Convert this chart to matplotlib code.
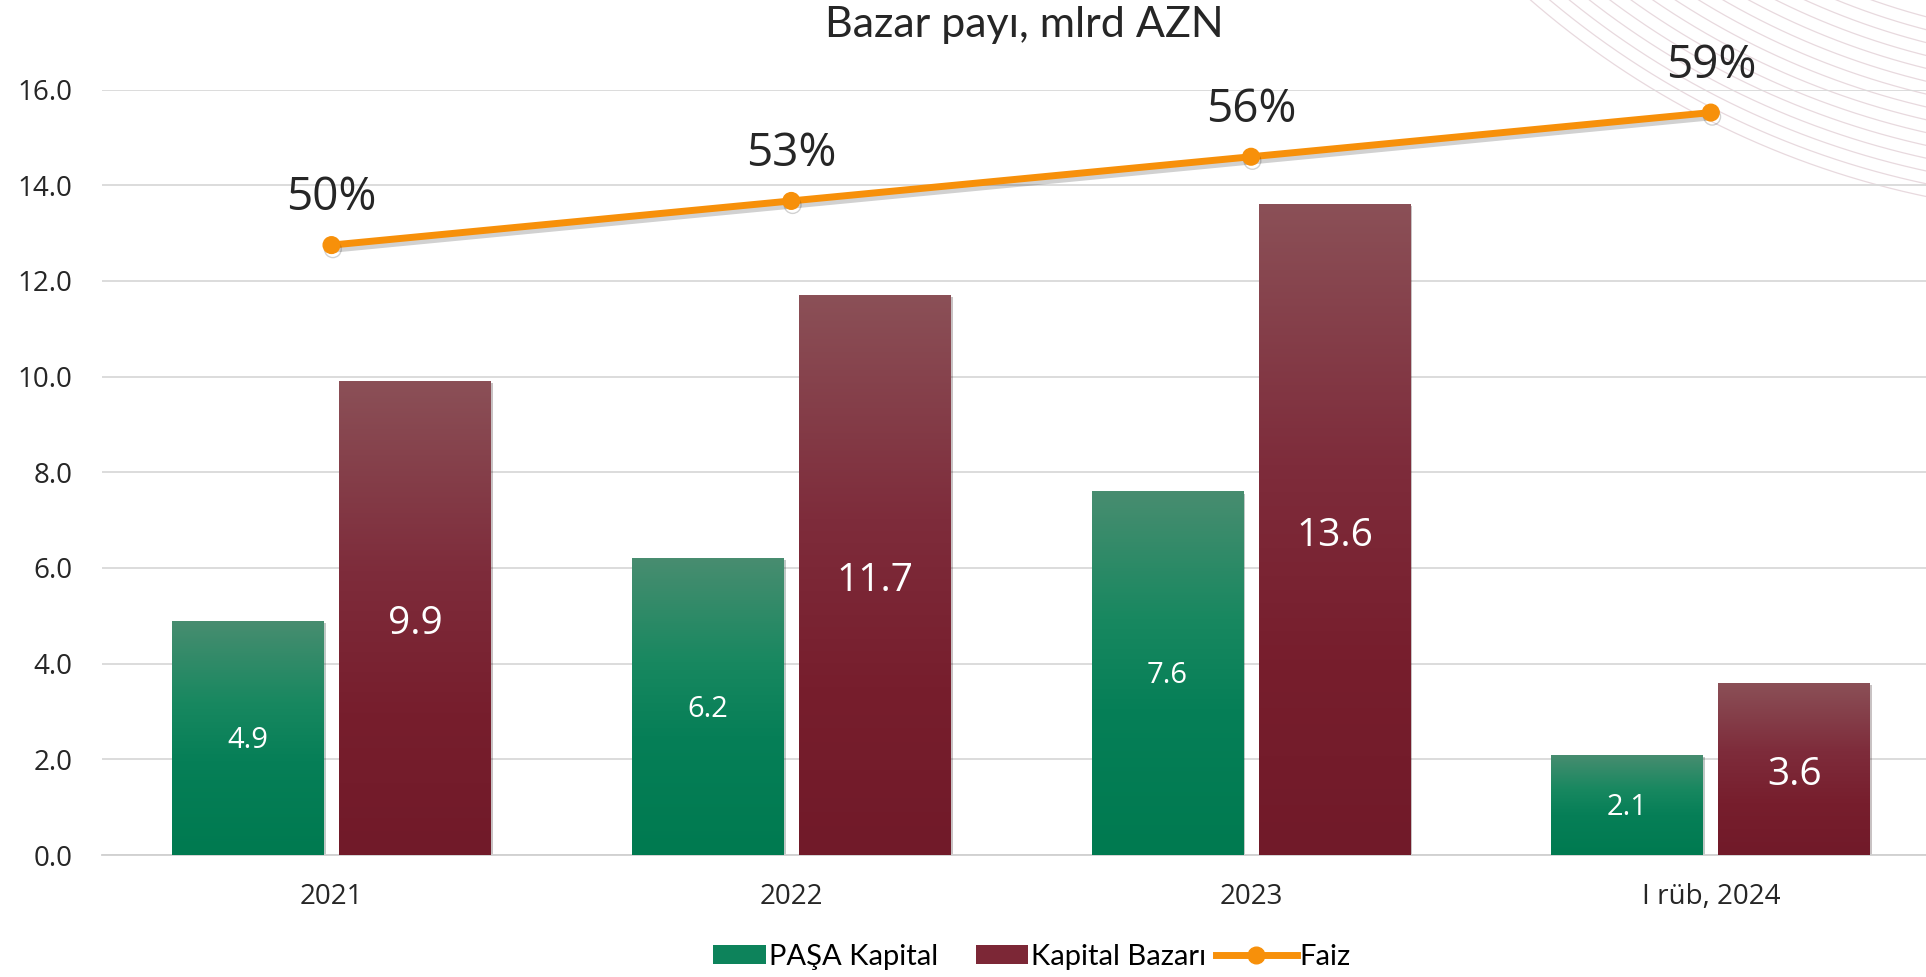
import numpy as np
import matplotlib
matplotlib.use("Agg")
import matplotlib.pyplot as plt
import matplotlib.patheffects as pe
from matplotlib.colors import LinearSegmentedColormap
from matplotlib.patches import Rectangle
from matplotlib.legend_handler import HandlerPatch
from matplotlib.lines import Line2D

# data
categories = ["2021", "2022", "2023", "I rüb, 2024"]
pasha = [4.9, 6.2, 7.6, 2.1]
market = [9.9, 11.7, 13.6, 3.6]
share = [50, 53, 56, 59]
y_ticks = [0, 2, 4, 6, 8, 10, 12, 14, 16]

W, H = 1926, 977
num_font = "Open Sans"
txt_font = "Lato"

green_cmap = LinearSegmentedColormap.from_list(
    "green", [(0, "#488d70"), (0.35, "#188860"), (0.6, "#067f57"), (1, "#007a50")])
red_cmap = LinearSegmentedColormap.from_list(
    "red", [(0, "#8b5057"), (0.4, "#7e2c3b"), (0.7, "#771e2d"), (1, "#711a29")])
orange = "#f7900a"

fig = plt.figure(figsize=(W / 100, H / 100), dpi=100)
fig.patch.set_facecolor("white")

# faint decorative arcs, top right corner
cx, cy = 2105, -660
t = np.linspace(0, np.pi, 600)
for r in np.arange(700, 885, 12.5):
    xs = cx + r * np.cos(t)
    ys = cy + r * np.sin(t)
    fig.add_artist(Line2D(xs / W, 1 - ys / H, color="#e8d9de", lw=0.9, zorder=-5))

ax = fig.add_axes([101.6 / W, 122 / H, 1 - 101.6 / W, 765.4 / H])
ax.patch.set_visible(False)

x = np.arange(len(categories))
bw = 0.33
off = 0.1816
grad = np.linspace(0, 1, 256).reshape(-1, 1)

for vals, dx, cmap, lab_size, lab_dy in [(pasha, -off, green_cmap, 21, -2),
                                         (market, off, red_cmap, 28, -4.5)]:
    bars = ax.bar(x + dx, vals, width=bw, color=cmap(0.5), zorder=2,
                  path_effects=[pe.SimplePatchShadow(offset=(1.5, -1.5), alpha=0.25), pe.Normal()])
    for b, v in zip(bars, vals):
        x0 = b.get_x()
        im = ax.imshow(grad, cmap=cmap, extent=(x0, x0 + bw, 0, v), aspect="auto",
                       origin="upper", zorder=3)
        im.set_clip_path(b)
        ax.annotate(f"{v:.1f}", (x0 + bw / 2, v / 2), xytext=(0, lab_dy),
                    textcoords="offset points", ha="center", va="center", color="white",
                    fontsize=lab_size, family=num_font, zorder=4)

ax.set_xlim(-0.5, 3.468)
ax.set_ylim(0, 16)
ax.set_yticks(y_ticks)
ax.set_yticklabels([f"{v:.1f}" for v in y_ticks], fontsize=20, family=num_font, color="#262626")
ax.set_xticks(x)
ax.set_xticklabels(categories, fontsize=20, family=num_font, color="#262626")
ax.tick_params(axis="both", length=0)
ax.tick_params(axis="y", pad=21)
ax.tick_params(axis="x", pad=20)
ax.grid(axis="y", color="#d9d9d9", lw=1.3, zorder=0)
ax.set_axisbelow(True)
for s in ["top", "right", "left"]:
    ax.spines[s].set_visible(False)
ax.spines["bottom"].set_color("#d0d0d0")
ax.spines["bottom"].set_linewidth(1.3)

# share line on a hidden secondary axis
ax2 = ax.twinx()
ax2.set_ylim(8.58, 60.56)
ax2.set_axis_off()
ax2.plot(x, share, color=orange, lw=5, marker="o", ms=12, solid_capstyle="round",
         path_effects=[pe.SimpleLineShadow(offset=(1, -3), alpha=0.18), pe.Normal()])
for xi, v in zip(x, share):
    ax2.annotate(f"{v:.0f}%", (xi, v), xytext=(0, 25), textcoords="offset points",
                 ha="center", va="baseline", fontsize=33, family=num_font, color="#262626")
ax2.set_xlim(-0.5, 3.468)

fig.text(1024 / W, 1 - 25 / H, "Bazar payı, mlrd AZN", ha="center", va="center",
         fontsize=31, family=txt_font, color="#262626")


def right_patch(legend, orig_handle, xdescent, ydescent, width, height, fontsize):
    w = width * 0.65
    return Rectangle((-xdescent + width - w, -ydescent), w, height)


handles = [Rectangle((0, 0), 1, 1, facecolor=green_cmap(0.5)),
           Rectangle((0, 0), 1, 1, facecolor=red_cmap(0.5)),
           Line2D([0], [0], color=orange, lw=5, marker="o", ms=12)]
labels = ["PAŞA Kapital", "Kapital Bazarı", "Faiz"]
fig.legend(handles, labels, loc="center", bbox_to_anchor=(1018 / W, 1 - 957 / H), ncol=3,
           frameon=False, prop={"family": txt_font, "size": 21}, handlelength=2.75,
           handleheight=0.6, handletextpad=0.1, columnspacing=0.35,
           handler_map={Rectangle: HandlerPatch(patch_func=right_patch)})

fig.savefig("out.png", dpi=100)
